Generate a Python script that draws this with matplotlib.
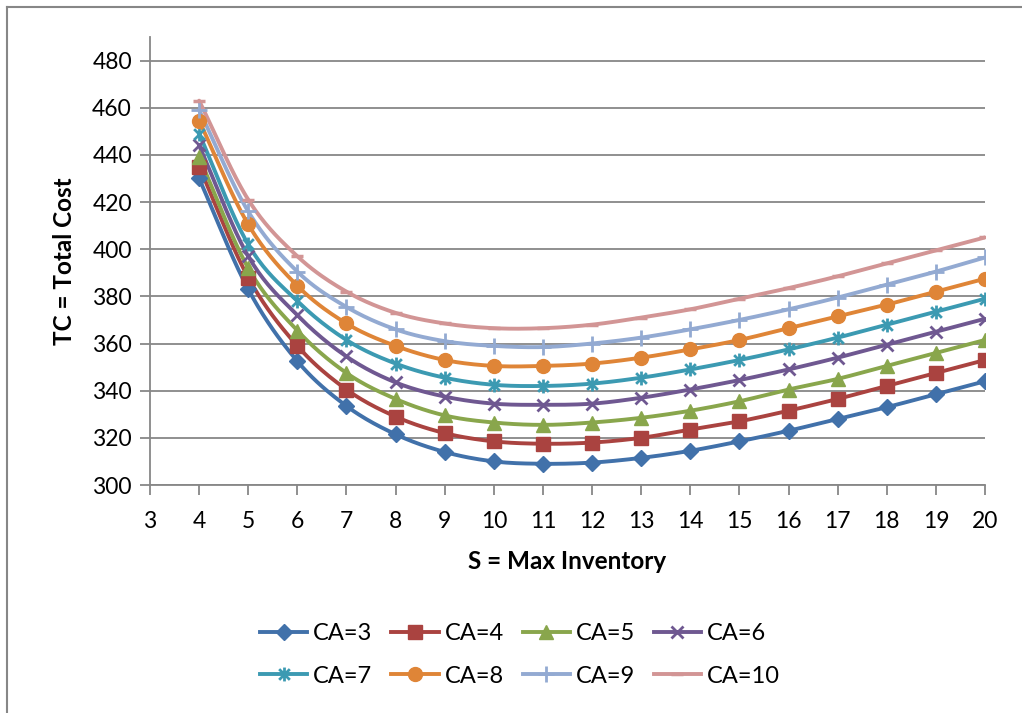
import numpy as np
import matplotlib
matplotlib.use("Agg")
import matplotlib.pyplot as plt
from matplotlib.path import Path
from matplotlib.lines import Line2D

plt.rcParams['font.family'] = ['Lato', 'DejaVu Sans']

s_values = list(range(4, 21))
labels = ['CA=3', 'CA=4', 'CA=5', 'CA=6', 'CA=7', 'CA=8', 'CA=9', 'CA=10']

tc_ca3 = [430, 383, 352.5, 333.5, 321.5, 314, 310, 309, 309.5, 311.5, 314.5, 318.5, 323, 328, 333, 338.5, 344]
tc_ca4 = [435, 388, 359, 340.5, 329, 322, 318.5, 317.5, 318, 320, 323.5, 327, 331.5, 336.5, 342, 347.5, 353]
tc_ca5 = [439, 392, 365.5, 347.5, 336.5, 329.5, 326.5, 325.5, 326.5, 328.5, 331.5, 335.5, 340.5, 345, 350.5, 356, 361.5]
tc_ca6 = [444, 397, 372, 354.5, 343.5, 337.5, 334.5, 334, 334.5, 337, 340.5, 344.5, 349, 354, 359.5, 365, 370.5]
tc_ca7 = [449, 402, 378, 361.5, 351.5, 345.5, 342.5, 342, 343, 345.5, 349, 353, 357.5, 362.5, 368, 373.5, 379]
tc_ca8 = [454.5, 410.5, 384.5, 368.5, 359, 353, 350.5, 350.5, 351.5, 354, 357.5, 361.5, 366.5, 371.5, 376.5, 382, 387.5]
tc_ca9 = [459, 416, 390.5, 375.5, 366, 361, 359, 358.5, 360, 362.5, 366, 370, 374.5, 379.5, 385, 390.5, 396.5]
tc_ca10 = [463, 421, 397, 382, 373, 368.5, 366.5, 366.5, 368, 371, 374.5, 379, 383.5, 388.5, 394, 399.5, 405]
series = [tc_ca3, tc_ca4, tc_ca5, tc_ca6, tc_ca7, tc_ca8, tc_ca9, tc_ca10]

colors = ['#4171AA', '#AA4340', '#89A64C', '#6F5891', '#3C9AB2', '#DF8537', '#93AAD2', '#D29595']

# star marker: an x with a vertical stroke through it
star = Path([(-1, -1), (1, 1), (-1, 1), (1, -1), (0, -1.3), (0, 1.3)],
            [Path.MOVETO, Path.LINETO, Path.MOVETO, Path.LINETO, Path.MOVETO, Path.LINETO])
markers = ['D', 's', '^', 'x', star, 'o', '+', '_']
msizes = [8, 10, 10, 9, 10, 10, 11, 9]
edge_w = [1, 1, 1, 2, 2, 1, 2, 2.5]


def smooth(x, y, n=20):
    # Catmull-Rom curve through the points, like a spreadsheet "smoothed line"
    x = np.asarray(x, float)
    y = np.asarray(y, float)
    px = np.concatenate([[2 * x[0] - x[1]], x, [2 * x[-1] - x[-2]]])
    py = np.concatenate([[2 * y[0] - y[1]], y, [2 * y[-1] - y[-2]]])
    xs, ys = [], []
    t = np.linspace(0, 1, n, endpoint=False)
    for i in range(1, len(px) - 2):
        for p, out in ((px, xs), (py, ys)):
            p0, p1, p2, p3 = p[i - 1], p[i], p[i + 1], p[i + 2]
            out.extend(0.5 * (2 * p1 + (-p0 + p2) * t
                              + (2 * p0 - 5 * p1 + 4 * p2 - p3) * t ** 2
                              + (-p0 + 3 * p1 - 3 * p2 + p3) * t ** 3))
    xs.append(x[-1])
    ys.append(y[-1])
    return np.array(xs), np.array(ys)


fig = plt.figure(figsize=(10.22, 7.13), dpi=100)
ax = fig.add_axes([150 / 1022, 1 - 485 / 713, 835 / 1022, 448 / 713])

grid_col = '#878787'
handles = []
for vals, lab, col, mk, ms, mw in zip(series, labels, colors, markers, msizes, edge_w):
    sx, sy = smooth(s_values, vals)
    ax.plot(sx, sy, color=col, lw=2.8, solid_capstyle='round', zorder=3)
    ax.plot(s_values, vals, ls='none', marker=mk, ms=ms, color=col, mec=col, mew=mw, zorder=4)
    handles.append(Line2D([], [], color=col, lw=2.8, marker=mk, ms=ms, mec=col, mew=mw))

ax.set_xlim(3, 20)
ax.set_ylim(300, 490)
ax.set_xticks(range(3, 21))
ax.set_yticks(range(300, 481, 20))
ax.grid(axis='y', color=grid_col, lw=1.3)
ax.set_axisbelow(True)
for side in ('top', 'right'):
    ax.spines[side].set_visible(False)
for side in ('left', 'bottom'):
    ax.spines[side].set_color(grid_col)
    ax.spines[side].set_linewidth(1.3)
ax.tick_params(axis='both', colors=grid_col, labelcolor='black', labelsize=16.5,
               length=7, width=1.3)
ax.tick_params(axis='x', pad=12)
ax.tick_params(axis='y', pad=6)

ax.set_xlabel('S = Max Inventory', fontsize=17.5, fontweight='bold', labelpad=13)
ax.set_ylabel('TC = Total Cost', fontsize=17.5, fontweight='bold', labelpad=12)

# legend fills column by column, so interleave to get CA=3..6 on the first row
order = [0, 4, 1, 5, 2, 6, 3, 7]
fig.legend([handles[i] for i in order], [labels[i] for i in order], ncol=4, loc='center',
           bbox_to_anchor=(520 / 1022, 1 - 655 / 713), frameon=False, fontsize=17,
           handlelength=2.0, handletextpad=0.25, columnspacing=0.8, labelspacing=0.9)

# chart frame (left and top edges)
fig.add_artist(Line2D([7 / 1022, 7 / 1022], [0, 1 - 7 / 713], color=grid_col, lw=1.5))
fig.add_artist(Line2D([7 / 1022, 1], [1 - 7 / 713, 1 - 7 / 713], color=grid_col, lw=1.5))

fig.savefig('out.png', dpi=100)
